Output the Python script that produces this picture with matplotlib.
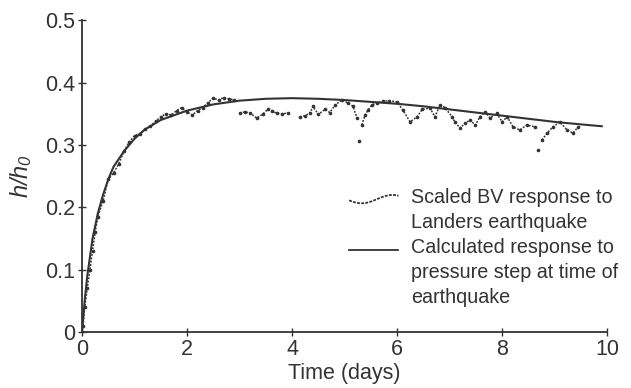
import numpy as np
import matplotlib
matplotlib.use('Agg')
import matplotlib.pyplot as plt
from matplotlib.legend_handler import HandlerBase
from matplotlib.lines import Line2D

plt.rcParams['font.family'] = ['Liberation Sans', 'DejaVu Sans']
plt.rcParams['mathtext.fontset'] = 'custom'
plt.rcParams['mathtext.it'] = 'Liberation Sans:italic'
plt.rcParams['mathtext.rm'] = 'Liberation Sans:italic'

# calculated response to pressure step
calc_t = [0, 0.05, 0.1, 0.2, 0.3, 0.4, 0.5, 0.6, 0.8, 1.0, 1.2, 1.5, 2.0, 2.5,
          3.0, 3.5, 4.0, 4.5, 5.0, 5.5, 6.0, 6.5, 7.0, 7.5, 8.0, 8.5, 9.0, 9.5, 9.9]
calc_h = [0, 0.05, 0.09, 0.15, 0.19, 0.22, 0.245, 0.265, 0.29, 0.31, 0.325, 0.34,
          0.355, 0.365, 0.371, 0.374, 0.375, 0.374, 0.372, 0.369, 0.366, 0.362,
          0.357, 0.352, 0.347, 0.342, 0.337, 0.333, 0.330]

# scaled BV response (observed), nan = gap in the record
obs_t = [0.02, 0.05, 0.1, 0.15, 0.2, 0.25, 0.3, 0.4, 0.5, 0.6, 0.7, 0.8, 0.9, 1.0,
         1.1, 1.2, 1.3, 1.4, 1.5, 1.6, 1.7, 1.8, 1.9, 2.0, 2.1, 2.2, 2.3, 2.4, 2.5,
         2.6, 2.7, 2.8, 2.9, 2.95, 3.0, 3.1, 3.2, 3.33, 3.45, 3.54, 3.62, 3.71, 3.8,
         3.92, 4.0, 4.15, 4.25, 4.34, 4.4, 4.5, 4.63, 4.72, 4.82, 4.95, 5.07, 5.16,
         5.24, 5.26, 5.28, 5.30, 5.33, 5.39, 5.45, 5.52, 5.62, 5.73, 5.85, 6.0, 6.11,
         6.25, 6.38, 6.48, 6.63, 6.72, 6.82, 6.91, 7.05, 7.1, 7.2, 7.3, 7.39, 7.49,
         7.58, 7.68, 7.77, 7.9, 8.0, 8.1, 8.21, 8.34, 8.47, 8.63, 8.66, 8.69, 8.72,
         8.76, 8.86, 8.97, 9.1, 9.24, 9.35, 9.45]
obs_h = [0.01, 0.04, 0.07, 0.10, 0.13, 0.16, 0.185, 0.21, 0.245, 0.255, 0.27, 0.29,
         0.305, 0.315, 0.318, 0.325, 0.33, 0.338, 0.345, 0.35, 0.348, 0.355, 0.36,
         0.353, 0.348, 0.355, 0.36, 0.368, 0.375, 0.372, 0.376, 0.374, 0.372, np.nan,
         0.351, 0.353, 0.351, 0.343, 0.350, 0.357, 0.354, 0.351, 0.350, 0.351, np.nan,
         0.345, 0.347, 0.351, 0.362, 0.349, 0.357, 0.352, 0.364, 0.372, 0.367, 0.362,
         0.343, np.nan, 0.306, np.nan, 0.332, 0.348, 0.356, 0.364, 0.368, 0.370,
         0.371, 0.369, 0.356, 0.337, 0.345, 0.357, 0.359, 0.345, 0.364, 0.360, 0.345,
         0.337, 0.327, 0.335, 0.340, 0.332, 0.345, 0.353, 0.343, 0.351, 0.337, 0.345,
         0.329, 0.324, 0.332, 0.329, np.nan, 0.292, np.nan, 0.308, 0.319, 0.329,
         0.337, 0.324, 0.319, 0.329]

x_ticks = [0, 2, 4, 6, 8, 10]
y_ticks = [0, 0.1, 0.2, 0.3, 0.4, 0.5]
y_ticklabels = ['0', '0.1', '0.2', '0.3', '0.4', '0.5']

ink = '#333333'


class WaveHandler(HandlerBase):
    def __init__(self, kind, shift):
        super().__init__()
        self.kind = kind
        self.shift = shift

    def create_artists(self, legend, orig_handle, xdescent, ydescent, width,
                       height, fontsize, trans):
        yc = height / 2 - ydescent + self.shift
        if self.kind == 'wave':
            xs = np.linspace(0, width, 40)
            ys = yc - 3.0 * np.sin(np.pi * xs / width * 1.6 + 0.3)
            ln = Line2D(xs, ys, color=ink, lw=1.3, linestyle=(0, (1.6, 0.7)))
        else:
            ln = Line2D([0, width], [yc, yc], color=ink, lw=1.3)
        ln.set_transform(trans)
        return [ln]


fig = plt.figure(figsize=(6.31, 3.88), dpi=100)
ax = fig.add_axes([0.130, 0.144, 0.832, 0.804])

ax.plot(calc_t, calc_h, color=ink, lw=1.5, zorder=3)
ax.plot(obs_t, obs_h, linestyle=(0, (1.2, 1.0)), lw=1.1, marker='o',
        markersize=1.6, color=ink, zorder=2)

ax.set_xlim(0, 10)
ax.set_ylim(0, 0.5)
ax.set_xticks(x_ticks)
ax.set_yticks(y_ticks)
ax.set_yticklabels(y_ticklabels)
ax.tick_params(direction='inout', length=6, width=1, colors=ink,
               labelsize=15.5, pad=2)
for s in ['top', 'right']:
    ax.spines[s].set_visible(False)
for s in ['left', 'bottom']:
    ax.spines[s].set_color(ink)
    ax.spines[s].set_linewidth(1.3)

ax.set_xlabel('Time (days)', fontsize=15.5, color=ink, labelpad=2)
ax.set_ylabel(r'$h/h_0$', fontsize=17, color=ink, labelpad=8)

h_obs = object()
h_calc = object()
leg = ax.legend([h_obs, h_calc],
                ['Scaled BV response to\nLanders earthquake',
                 'Calculated response to\npressure step at time of\nearthquake'],
                handler_map={h_obs: WaveHandler('wave', 8.4),
                             h_calc: WaveHandler('line', 16.8)},
                loc='upper left', bbox_to_anchor=(0.49, 0.493), frameon=False,
                fontsize=14.2, handlelength=2.5, handletextpad=0.62,
                labelspacing=0.3, borderpad=0)
for t in leg.get_texts():
    t.set_color(ink)
    t.set_linespacing(1.4)

fig.savefig('out.png', dpi=100)
